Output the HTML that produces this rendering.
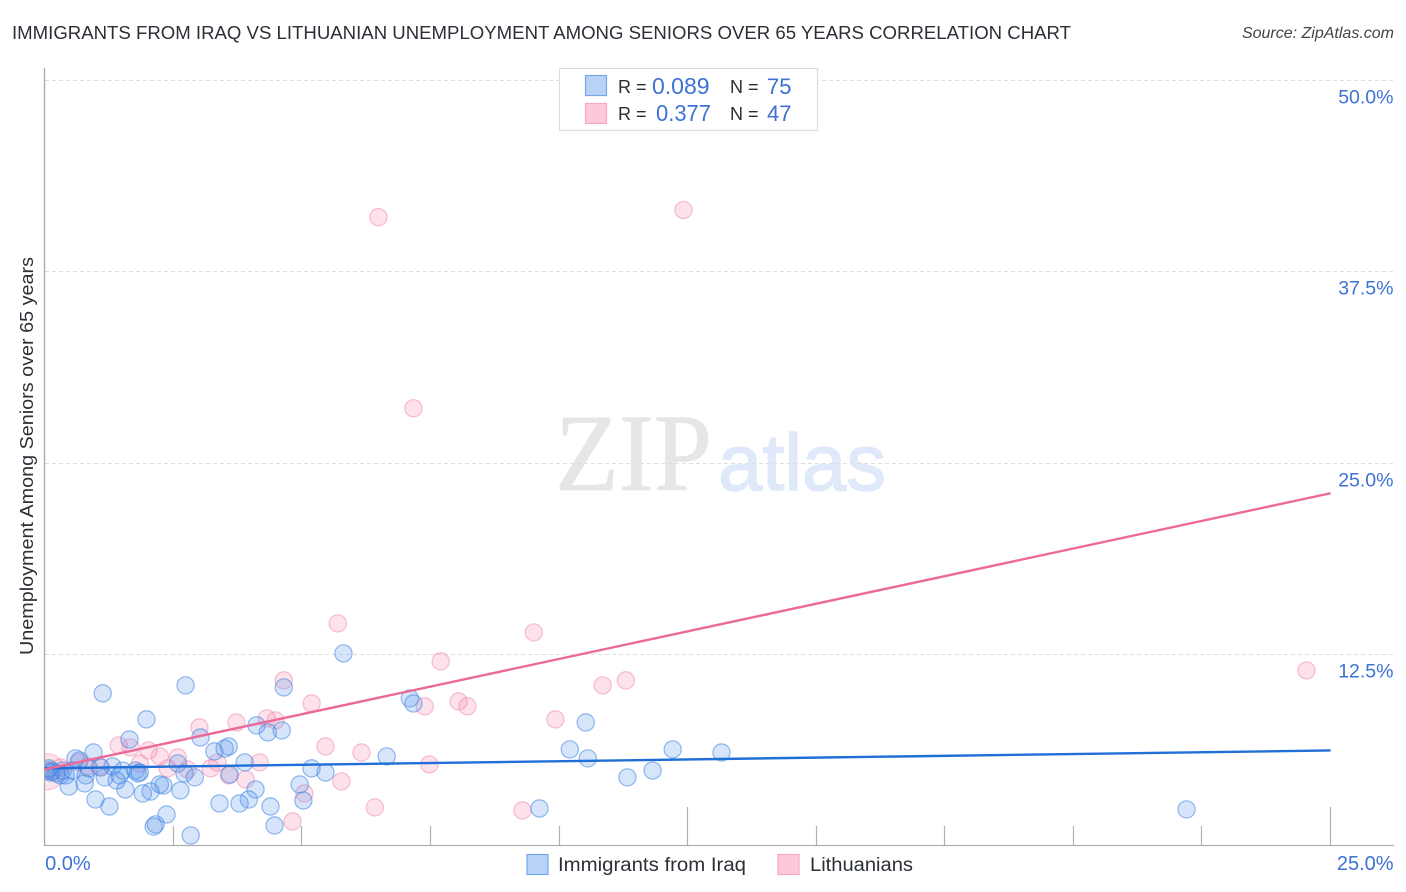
<!DOCTYPE html>
<html lang="en">
<head>
<meta charset="utf-8">
<title>Immigrants from Iraq vs Lithuanian Unemployment Chart</title>
<style>
html,body{margin:0;padding:0;background:#fff;width:1406px;height:892px;overflow:hidden}
svg{display:block}
text{font-family:"Liberation Sans",sans-serif}
</style>
</head>
<body>
<svg id="chart" width="1406" height="892" viewBox="0 0 1406 892" xmlns="http://www.w3.org/2000/svg">
  <defs><clipPath id="plot-clip"><rect x="45" y="60" width="1350" height="785"/></clipPath></defs>
  <text x="12" y="39" font-size="18.5" fill="#2b2f36" textLength="1059" lengthAdjust="spacingAndGlyphs">IMMIGRANTS FROM IRAQ VS LITHUANIAN UNEMPLOYMENT AMONG SENIORS OVER 65 YEARS CORRELATION CHART</text>
  <text x="1394" y="38" font-size="16" font-style="italic" fill="#444" text-anchor="end">Source: ZipAtlas.com</text>
  <g>
    <text x="555" y="490" font-size="110" fill="#e6e6e6" stroke="#e6e6e6" stroke-width="0.8" textLength="157" lengthAdjust="spacingAndGlyphs" style="font-family:'Liberation Serif',serif">ZIP</text>
    <text x="718" y="490" font-size="80" fill="#dfe9f9" stroke="#dfe9f9" stroke-width="1.4" textLength="168" lengthAdjust="spacingAndGlyphs">atlas</text>
  </g>
  <g id="grid"></g>
  <g id="axes"></g>
  <g id="marks" clip-path="url(#plot-clip)"></g>
  <g id="trends"></g>
  <g>
    <rect x="559.5" y="68.5" width="258" height="62" fill="#fff" stroke="#dcdcdc" stroke-width="1.2"/>
    <rect x="585.5" y="75.5" width="21" height="20" fill="#b8d2f6" stroke="#74a6e8" stroke-width="1.2"/>
    <rect x="585.5" y="103.5" width="21" height="20" fill="#fcc8da" stroke="#f6a9c3" stroke-width="1.2"/>
    <text x="618" y="93" font-size="18" fill="#2b2f36">R =</text>
    <text x="652" y="94" font-size="23" fill="#3d72d4">0.089</text>
    <text x="730" y="93" font-size="18" fill="#2b2f36">N =</text>
    <text x="767" y="94" font-size="22" fill="#3d72d4">75</text>
    <text x="618" y="120" font-size="18" fill="#2b2f36">R =</text>
    <text x="656" y="121" font-size="23" fill="#3d72d4" textLength="55" lengthAdjust="spacingAndGlyphs">0.377</text>
    <text x="730" y="120" font-size="18" fill="#2b2f36">N =</text>
    <text x="767" y="121" font-size="22" fill="#3d72d4">47</text>
  </g>
  <g>
    <rect x="527" y="854.5" width="21" height="20" fill="#b8d2f6" stroke="#74a6e8" stroke-width="1.2"/>
    <text x="558" y="871" font-size="19" fill="#2b2f36" textLength="188" lengthAdjust="spacingAndGlyphs">Immigrants from Iraq</text>
    <rect x="778" y="854.5" width="21" height="20" fill="#fcc8da" stroke="#f6a9c3" stroke-width="1.2"/>
    <text x="810" y="871" font-size="19" fill="#2b2f36" textLength="103" lengthAdjust="spacingAndGlyphs">Lithuanians</text>
  </g>
  <text transform="translate(33,456) rotate(-90)" font-size="18" fill="#2b2f36" text-anchor="middle" textLength="398" lengthAdjust="spacingAndGlyphs">Unemployment Among Seniors over 65 years</text>
</svg>
<script>
const iraqX = [1.13,2.74,1.98,1.65,3.03,4.65,5.81,4.12,4.34,4.61,3.30,3.50,3.58,3.89,5.19,5.46,4.96,5.03,4.10,3.97,3.79,3.40,4.39,4.47,2.84,2.37,2.16,2.12,2.64,2.31,2.24,2.06,1.91,1.57,1.40,1.17,0.99,1.26,0.78,0.47,0.95,0.60,0.68,1.32,1.52,1.46,1.77,1.85,1.81,2.59,2.72,2.92,3.60,0.80,0.86,1.09,7.10,7.17,6.65,10.52,10.21,10.56,11.33,11.82,12.21,13.16,9.62,22.20,0.06,0.12,0.16,0.23,0.31,0.35,0.41,0.54,0.08];
const iraqY = [9.97,10.49,8.27,6.96,7.09,10.36,12.58,7.88,7.42,7.55,6.18,6.37,6.50,5.46,5.07,4.80,4.02,2.97,3.69,3.04,2.78,2.78,2.58,1.34,0.69,2.06,1.41,1.27,3.63,3.95,4.02,3.56,3.43,3.69,4.28,4.48,3.04,2.58,4.09,3.89,6.11,5.72,5.59,5.20,4.93,4.61,4.93,4.80,4.74,5.39,4.74,4.48,4.67,4.61,5.07,5.13,9.64,9.31,5.85,8.07,6.31,5.72,4.48,4.93,6.31,6.11,2.45,2.39,4.93,4.80,4.87,4.74,4.61,4.93,4.61,4.93,5.07];
const lithuaniansX = [4.65,5.19,4.32,4.49,3.73,3.01,5.46,5.77,4.82,5.05,4.18,3.91,3.58,3.36,3.23,2.78,2.59,2.39,2.24,2.02,1.85,1.67,1.44,1.07,0.66,0.84,0.31,0.12,7.70,8.05,8.22,7.39,6.16,7.48,6.42,9.29,9.93,10.85,11.30,6.49,12.42,7.17,9.51,5.70,24.53];
const lithuaniansY = [10.82,9.31,8.33,8.20,8.07,7.75,6.50,4.22,1.60,3.43,5.46,4.35,4.61,5.46,5.07,5.00,5.78,5.07,5.85,6.24,5.39,6.44,6.57,5.20,5.46,5.20,5.13,4.93,12.06,9.44,9.12,9.12,6.11,5.33,2.52,2.32,8.27,10.49,10.82,41.08,41.54,28.59,13.95,14.54,11.47];
const lithuaniansClusterX = [0.05];
const lithuaniansClusterY = [4.85];
const iraqTrendX = [0, 25];
const iraqTrendY = [5.07, 6.24];
const lithuaniansTrendX = [0, 25];
const lithuaniansTrendY = [5.0, 23.04];
const yTickValues = [12.5, 25, 37.5, 50];
const yTickLabels = ['12.5%', '25.0%', '37.5%', '50.0%'];
const xTickValues = [2.5, 5, 7.5, 10, 12.5, 15, 17.5, 20, 22.5, 25];
const xEndValues = [0, 25];
const xEndLabels = ['0.0%', '25.0%'];

const SVG_NS = 'http://www.w3.org/2000/svg';
function xScale(v) { return 44.6 + v * 51.44; }
function yScale(v) { return 846 - v * 15.31; }
function make(tag, attrs, parent) {
  const el = document.createElementNS(SVG_NS, tag);
  for (const k in attrs) el.setAttribute(k, attrs[k]);
  parent.appendChild(el);
  return el;
}
const gridG = document.getElementById('grid');
const axesG = document.getElementById('axes');
const marksG = document.getElementById('marks');
const trendsG = document.getElementById('trends');

yTickValues.forEach(function (v, i) {
  const py = Math.floor(yScale(v)) + 0.5;
  const line = make('line', {x1: 45, x2: 1394, y1: py, y2: py, stroke: '#dedede', 'stroke-width': 1, 'stroke-dasharray': '4 3'}, gridG);
  
  
  const label = make('text', {x: 1393.5, y: py + 23, 'font-size': 19.5, fill: '#3d72d4', 'text-anchor': 'end'}, axesG);
  
  
  label.textContent = yTickLabels[i];
});

const yAxis = make('line', {x1: 44.5, x2: 44.5, y1: 68, y2: 846, stroke: '#a8a8a8', 'stroke-width': 1.3}, axesG);


const xAxis = make('line', {x1: 44, x2: 1394, y1: 845.5, y2: 845.5, stroke: '#b0b0b0', 'stroke-width': 1.3}, axesG);



xTickValues.forEach(function (v) {
  const px = Math.floor(xScale(v)) + 0.5;
  const tall = v === 12.5 || v === 25;
  const tick = make('line', {x1: px, x2: px, y1: tall ? 807 : 826, y2: 845, stroke: '#b0b0b0', 'stroke-width': 1.2}, axesG);
  
  
});

xEndValues.forEach(function (v, i) {
  const label = make('text', {x: i === 0 ? xScale(v) + 0.5 : xScale(v) + 63, y: 870, 'font-size': 20, fill: '#3d72d4', 'text-anchor': i === 0 ? 'start' : 'end'}, axesG);
  
  
  label.textContent = xEndLabels[i];
});

lithuaniansClusterX.forEach(function (v, i) {
  const c = make('circle', {cx: xScale(v), cy: yScale(lithuaniansClusterY[i]), r: 18, fill: 'rgba(246,140,175,0.25)', stroke: 'rgba(240,130,170,0.4)', 'stroke-width': 1.2}, marksG);
  
  
});
lithuaniansX.forEach(function (v, i) {
  const c = make('circle', {cx: xScale(v), cy: yScale(lithuaniansY[i]), r: 8.6, fill: 'rgba(246,140,175,0.25)', stroke: 'rgba(240,130,170,0.5)', 'stroke-width': 1.2}, marksG);
  
  
});
iraqX.forEach(function (v, i) {
  const c = make('circle', {cx: xScale(v), cy: yScale(iraqY[i]), r: 8.6, fill: 'rgba(90,150,235,0.25)', stroke: 'rgba(60,130,225,0.55)', 'stroke-width': 1.2}, marksG);
  
  
});

const iraqLine = make('line', {x1: xScale(iraqTrendX[0]), y1: yScale(iraqTrendY[0]), x2: xScale(iraqTrendX[1]), y2: yScale(iraqTrendY[1]), stroke: '#1f6fd6', 'stroke-width': 2.4}, trendsG);


const lithLine = make('line', {x1: xScale(lithuaniansTrendX[0]), y1: yScale(lithuaniansTrendY[0]), x2: xScale(lithuaniansTrendX[1]), y2: yScale(lithuaniansTrendY[1]), stroke: '#ec6a98', 'stroke-width': 2.4}, trendsG);


</script>
</body>
</html>
